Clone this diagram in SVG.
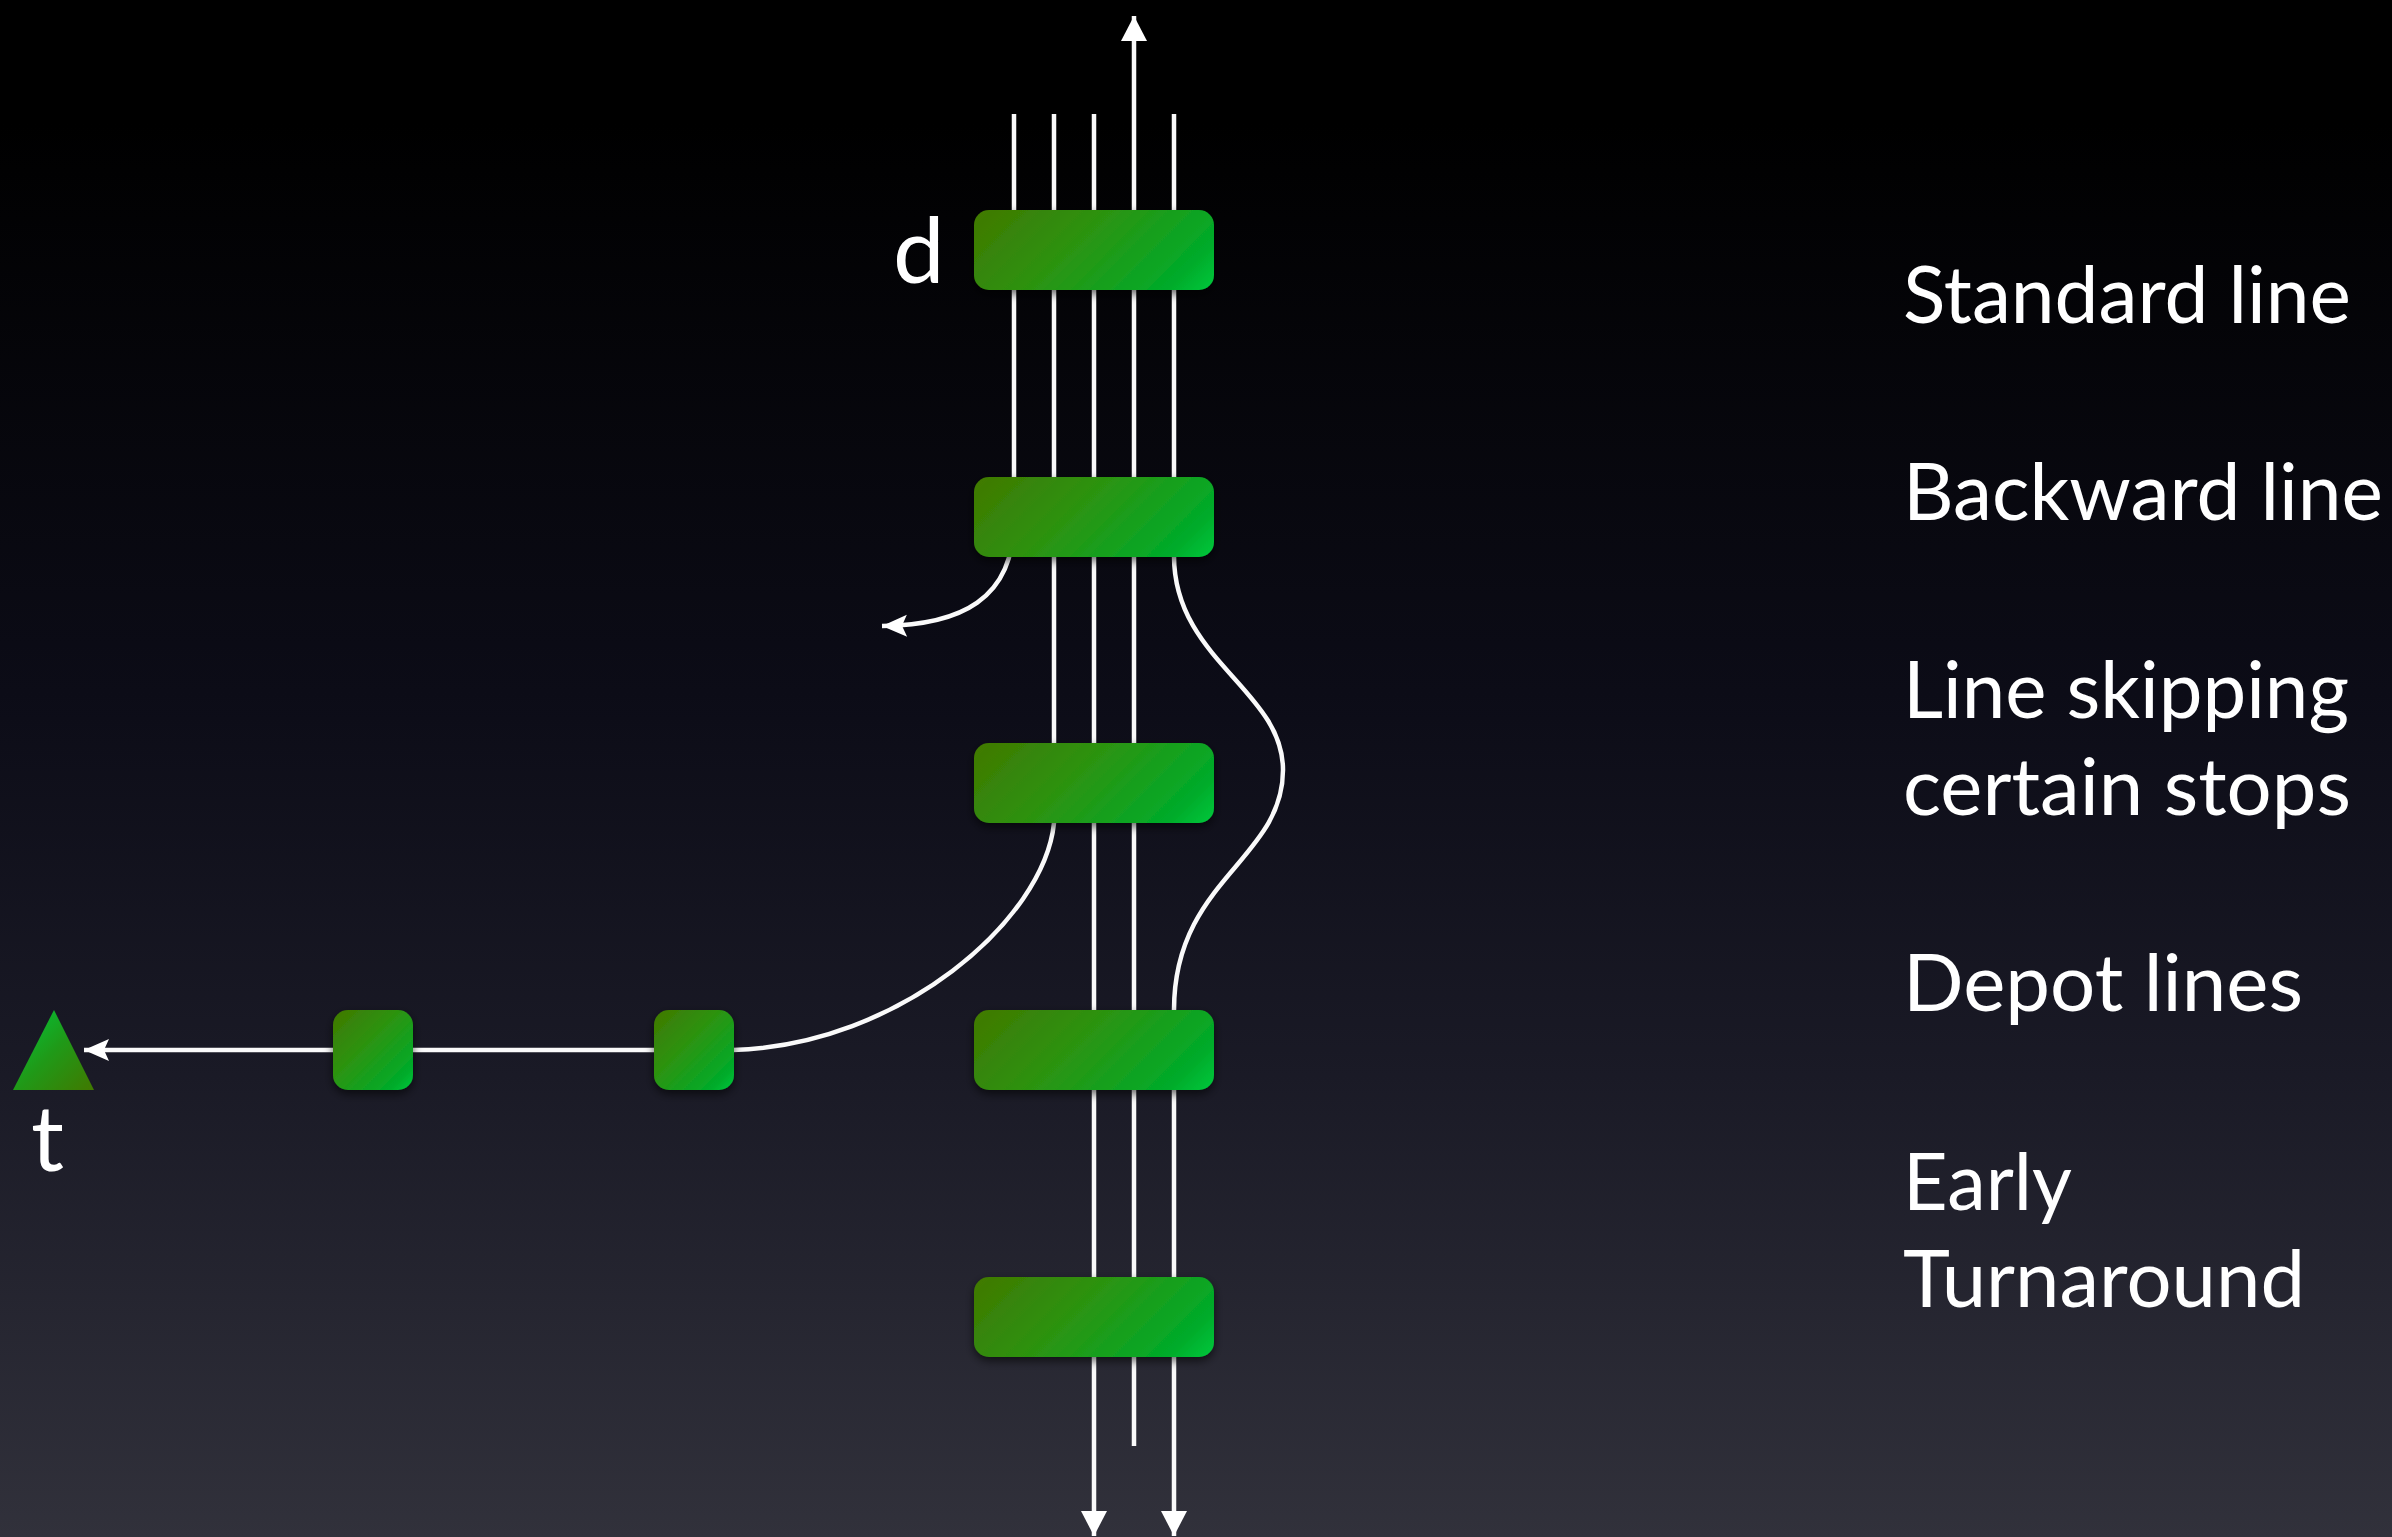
<svg xmlns="http://www.w3.org/2000/svg" width="2392" height="1537" viewBox="0 0 2392 1537">
<style>
.ln{fill:none;stroke:#fafafa;stroke-width:4.5}
.st{fill:url(#gWide);filter:url(#sh)}
.ss{fill:url(#gSmall);filter:url(#sh)}
.lbl{fill:#ffffff;font-family:Lato,"Open Sans","Noto Sans",sans-serif;font-size:80px}
.big{fill:#ffffff;font-family:Lato,"Open Sans","Noto Sans",sans-serif;font-size:92px}
</style>
<defs>
<linearGradient id="bg" x1="0" y1="0" x2="0" y2="1">
<stop offset="0" stop-color="#000000"/>
<stop offset="0.08" stop-color="#000000"/>
<stop offset="0.45" stop-color="#0c0c17"/>
<stop offset="0.7" stop-color="#1a1a26"/>
<stop offset="1" stop-color="#31313b"/>
</linearGradient>
<linearGradient id="gWide" x1="0" y1="0" x2="1.2" y2="0.4">
<stop offset="0" stop-color="#417800"/>
<stop offset="0.45" stop-color="#2a9512"/>
<stop offset="0.85" stop-color="#00ab2a"/>
<stop offset="1" stop-color="#00c83c"/>
</linearGradient>
<linearGradient id="gSmall" x1="0" y1="0" x2="1" y2="1">
<stop offset="0" stop-color="#417800"/>
<stop offset="0.45" stop-color="#2a9512"/>
<stop offset="0.85" stop-color="#00ab2a"/>
<stop offset="1" stop-color="#00c83c"/>
</linearGradient>
<linearGradient id="gTri" x1="0" y1="0" x2="1" y2="1">
<stop offset="0" stop-color="#00c83c"/>
<stop offset="0.5" stop-color="#1f9a18"/>
<stop offset="1" stop-color="#417800"/>
</linearGradient>
<filter id="sh" x="-20%" y="-30%" width="140%" height="170%">
<feDropShadow dx="0" dy="4" stdDeviation="5" flood-color="#000000" flood-opacity="0.6"/>
</filter>
<marker id="tri" markerUnits="userSpaceOnUse" markerWidth="30" markerHeight="30" viewBox="-27 -15 30 30" refX="0" refY="0" orient="auto">
<path d="M0,0 L-25,-13 L-25,13 Z" fill="#ffffff"/>
</marker>
<marker id="notch" markerUnits="userSpaceOnUse" markerWidth="30" markerHeight="30" viewBox="-28 -15 30 30" refX="0" refY="0" orient="auto">
<path d="M0,0 L-25,-11 L-20,0 L-25,11 Z" fill="#ffffff"/>
</marker>
</defs>
<rect x="0" y="0" width="2392" height="1537" fill="url(#bg)"/>
<g id="connectors">
<path class="ln" d="M1014,114 L1014,520 C1014,600 960,625 882,626" marker-end="url(#notch)"/>
<path class="ln" d="M1054,114 L1054,823 C1044,920 900,1045 733,1050 L84,1050" marker-end="url(#notch)"/>
<path class="ln" d="M1094,114 L1094,1536" marker-end="url(#tri)"/>
<path class="ln" d="M1134,1446 L1134,16" marker-end="url(#tri)"/>
<path class="ln" d="M1174,114 L1174,556 C1174,660 1283,690 1283,770 C1283,860 1174,880 1174,1010 L1174,1536" marker-end="url(#tri)"/>
</g>
<g id="station1"><rect class="st" x="974" y="210" width="240" height="80" rx="15"/></g>
<g id="station2"><rect class="st" x="974" y="477" width="240" height="80" rx="15"/></g>
<g id="station3"><rect class="st" x="974" y="743" width="240" height="80" rx="15"/></g>
<g id="station4"><rect class="st" x="974" y="1010" width="240" height="80" rx="15"/></g>
<g id="station5"><rect class="st" x="974" y="1277" width="240" height="80" rx="15"/></g>
<g id="depot1"><rect class="ss" x="654" y="1010" width="80" height="80" rx="15"/></g>
<g id="depot2"><rect class="ss" x="333" y="1010" width="80" height="80" rx="15"/></g>
<g id="terminal"><polygon points="54,1010 13,1090 94,1090" fill="url(#gTri)"/></g>
<g id="labels">
<text class="big" x="893" y="283">d</text>
<text class="big" x="31" y="1171">t</text>
<text class="lbl" x="1903" y="323" textLength="448" lengthAdjust="spacingAndGlyphs">Standard line</text>
<text class="lbl" x="1903" y="520" textLength="480" lengthAdjust="spacingAndGlyphs">Backward line</text>
<text class="lbl" x="1903" y="718" textLength="446" lengthAdjust="spacingAndGlyphs">Line skipping</text>
<text class="lbl" x="1903" y="815" textLength="448" lengthAdjust="spacingAndGlyphs">certain stops</text>
<text class="lbl" x="1903" y="1011" textLength="400" lengthAdjust="spacingAndGlyphs">Depot lines</text>
<text class="lbl" x="1903" y="1210" textLength="169" lengthAdjust="spacingAndGlyphs">Early</text>
<text class="lbl" x="1903" y="1307" textLength="402" lengthAdjust="spacingAndGlyphs">Turnaround</text>
</g>
</svg>
